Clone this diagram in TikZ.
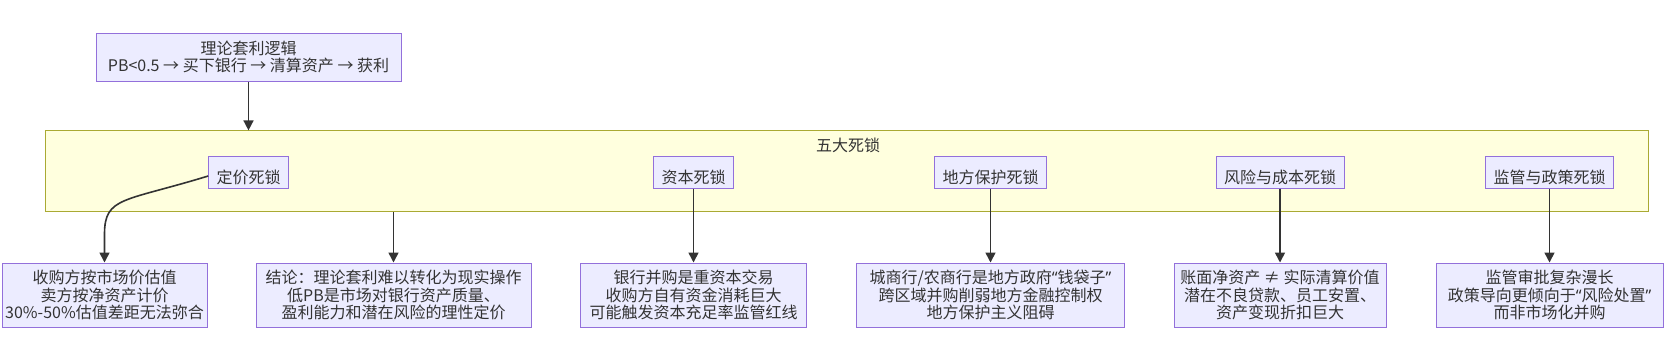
\documentclass[tikz,border=0pt]{standalone}
\usepackage{fontspec}
\setmainfont{Noto Sans CJK SC}
\newfontfamily\qfont{Noto Sans}
\newcommand{\myLq}{{\qfont “}}
\newcommand{\myRq}{{\qfont ”}}
\usetikzlibrary{arrows.meta}
\definecolor{nodefill}{HTML}{ECECFF}
\definecolor{nodeborder}{HTML}{9370DB}
\definecolor{clusterfill}{HTML}{FFFFDE}
\definecolor{clusterborder}{HTML}{AAAA33}
\definecolor{edgecol}{HTML}{333333}
\definecolor{textcol}{HTML}{333333}
\begin{document}
\begin{tikzpicture}[x=1pt,y=-1pt,
  font=\fontsize{16}{17.5}\selectfont,
  box/.style={draw=nodeborder, fill=nodefill, line width=1pt, text=textcol, align=center, inner sep=0pt, minimum height=64pt},
  lock/.style={draw=nodeborder, fill=nodefill, line width=1pt, text=textcol, inner xsep=8pt, inner ysep=0pt, text height=27pt, text depth=5pt},
  cluster/.style={draw=clusterborder, fill=clusterfill, line width=1pt, inner sep=0pt},
  arr/.style={draw=edgecol, line width=1.6pt, -{Triangle[length=10pt,width=10pt]}}
]
\useasboundingbox (0,0) rectangle (1670,354);

\node[box, minimum width=305pt, minimum height=48pt] (top) at (248.5,57) {理论套利逻辑\\PB<0.5 → 买下银行 → 清算资产 → 获利};

\node[cluster, minimum width=1603pt, minimum height=81pt] (cl) at (847.4,171.4) {};
\node[text=textcol, inner sep=0pt] (cltitle) at (848,145) {五大死锁};

\node[lock] (dj) at (248.7,172) {定价死锁};
\node[lock] (zb) at (693.5,172) {资本死锁};
\node[lock] (df) at (990.5,172) {地方保护死锁};
\node[lock] (fx) at (1280,172) {风险与成本死锁};
\node[lock] (jg) at (1549.5,172) {监管与政策死锁};

\node[box, minimum width=205pt] (b1) at (104.5,295) {收购方按市场价估值\\卖方按净资产计价\\30\%-50\%估值差距无法弥合};
\node[box, minimum width=275pt] (b2) at (393.5,295) {结论：理论套利难以转化为现实操作\\低PB是市场对银行资产质量、\\盈利能力和潜在风险的理性定价};
\node[box, minimum width=226pt] (b3) at (693.5,295) {银行并购是重资本交易\\收购方自有资金消耗巨大\\可能触发资本充足率监管红线};
\node[box, minimum width=268pt] (b4) at (990.5,295) {城商行/农商行是地方政府\myLq 钱袋子\myRq\\跨区域并购削弱地方金融控制权\\地方保护主义阻碍};
\node[box, minimum width=212pt] (b5) at (1280,295) {账面净资产 ≠ 实际清算价值\\潜在不良贷款、员工安置、\\资产变现折扣巨大};
\node[box, minimum width=227pt] (b6) at (1549.5,295) {监管审批复杂漫长\\政策导向更倾向于\myLq 风险处置\myRq\\而非市场化并购};

\draw[arr] (top.south) -- (top.south |- cl.north);
\draw[arr] ([yshift=-4pt]dj.west) .. controls +(-85,26) and +(0,-38) .. ([yshift=28pt]b1.north) -- (b1.north);
\draw[arr] (cl.south -| b2.north) -- (b2.north);
\draw[arr] (zb.south) -- (b3.north);
\draw[arr] (df.south) -- (b4.north);
\draw[arr] (fx.south) -- (b5.north);
\draw[arr] (jg.south) -- (b6.north);
\end{tikzpicture}
\end{document}
